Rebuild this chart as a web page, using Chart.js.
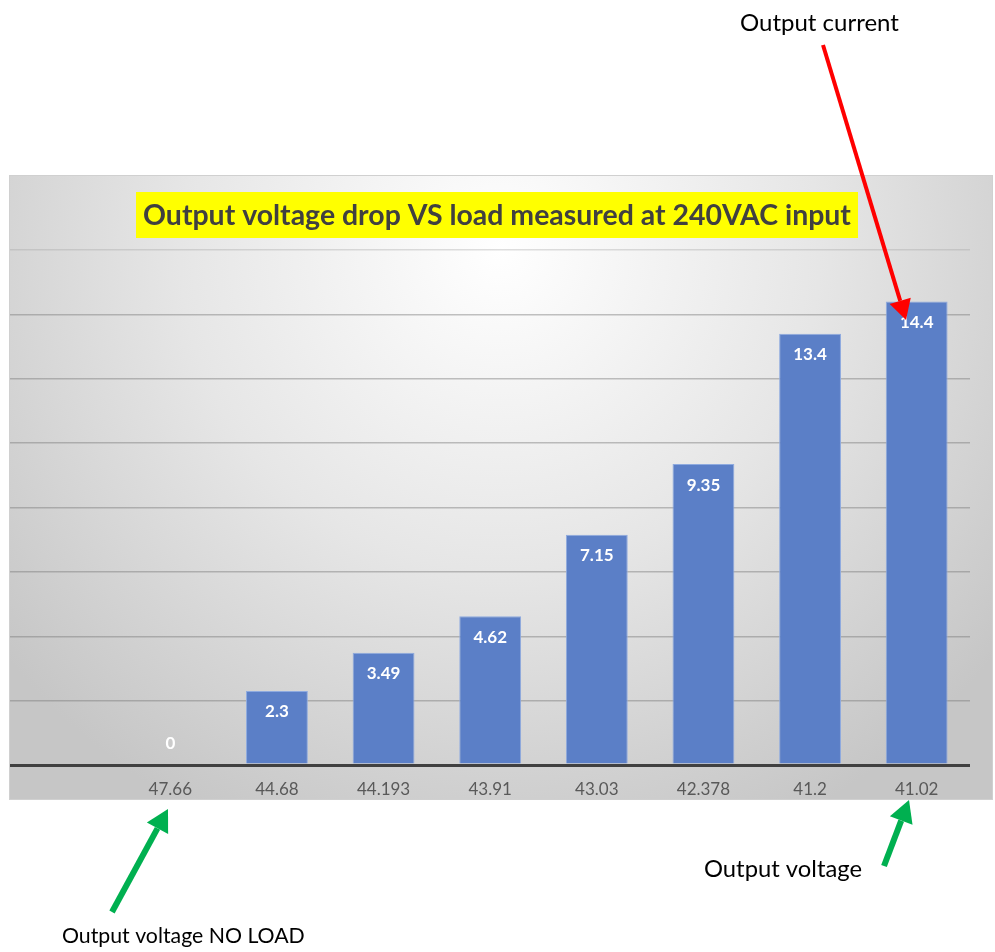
<!DOCTYPE html>
<html>
<head>
<meta charset="utf-8">
<style>
  html, body { margin: 0; padding: 0; background: #ffffff; }
  #wrap { width: 995px; height: 952px; position: relative; }
</style>
<script src="https://cdn.jsdelivr.net/npm/chart.js@4.4.1/dist/chart.umd.min.js"></script>
</head>
<body>
<div id="wrap"><canvas id="myChart"></canvas></div>
<script>
// data
const voltages = ['47.66', '44.68', '44.193', '43.91', '43.03', '42.378', '41.2', '41.02'];
const currents = [0, 2.3, 3.49, 4.62, 7.15, 9.35, 13.4, 14.4];
const yTicks   = [0, 2, 4, 6, 8, 10, 12, 14, 16];

const titleText = 'Output voltage drop VS load measured at 240VAC input';
const FONT = 'Lato, Carlito, Calibri, sans-serif';

// gray gradient box behind the chart + title box
const backdrop = {
    id: 'backdrop',
    beforeDraw(chart) {
        const c = chart.ctx;
        c.save();
        const g = c.createRadialGradient(500, 250, 0, 500, 250, 640);
        g.addColorStop(0, '#ffffff');
        g.addColorStop(0.5, '#e6e6e6');
        g.addColorStop(1, '#c6c6c6');
        c.fillStyle = g;
        c.fillRect(9, 175, 984, 625);
        c.strokeStyle = '#d0d0d0';
        c.lineWidth = 1;
        c.strokeRect(9.5, 175.5, 983, 624);

        // title
        c.font = 'bold 24px ' + FONT;
        let w = c.measureText(titleText).width;
        const size = 24 * 708 / w;
        c.font = 'bold ' + size.toFixed(2) + 'px ' + FONT;
        c.fillStyle = '#ffff00';
        c.fillRect(136, 192, 722, 46);
        c.fillStyle = '#404040';
        c.textAlign = 'center';
        c.textBaseline = 'middle';
        c.fillText(titleText, 497, 216);
        c.restore();
    }
};

// white value labels near the top of every bar
const barLabels = {
    id: 'barLabels',
    afterDatasetsDraw(chart) {
        const c = chart.ctx;
        const meta = chart.getDatasetMeta(0);
        c.save();
        c.font = 'bold 17px ' + FONT;
        c.fillStyle = '#ffffff';
        c.textAlign = 'center';
        c.textBaseline = 'middle';
        meta.data.forEach((bar, i) => {
            const v = currents[i];
            const y = v > 0 ? bar.y + 21 : bar.y - 21;
            c.fillText(String(v), bar.x, y);
        });
        c.restore();
    }
};

function arrow(c, x1, y1, x2, y2, color, width, head) {
    const a = Math.atan2(y2 - y1, x2 - x1);
    const bx = x2 - head * Math.cos(a);
    const by = y2 - head * Math.sin(a);
    c.strokeStyle = color;
    c.fillStyle = color;
    c.lineWidth = width;
    c.beginPath();
    c.moveTo(x1, y1);
    c.lineTo(bx, by);
    c.stroke();
    c.beginPath();
    c.moveTo(x2, y2);
    c.lineTo(bx + head * 0.55 * Math.sin(a), by - head * 0.55 * Math.cos(a));
    c.lineTo(bx - head * 0.55 * Math.sin(a), by + head * 0.55 * Math.cos(a));
    c.closePath();
    c.fill();
}

// text squeezed to the width it has in the picture
function fitText(c, text, x, y, width) {
    c.font = '24px ' + FONT;
    const s = Math.min(24, 24 * width / c.measureText(text).width);
    c.font = s.toFixed(2) + 'px ' + FONT;
    c.fillText(text, x, y);
}

// callouts round the chart
const callouts = {
    id: 'callouts',
    afterDraw(chart) {
        const c = chart.ctx;
        c.save();
        c.fillStyle = '#000000';
        c.textAlign = 'left';
        c.textBaseline = 'middle';
        fitText(c, 'Output current', 740, 23, 160);
        fitText(c, 'Output voltage', 704, 869, 158);
        fitText(c, 'Output voltage NO LOAD', 62, 936, 243);

        arrow(c, 823, 45, 906, 320, '#ff0000', 4, 20);
        arrow(c, 112, 912, 168, 809, '#00b050', 6, 22);
        arrow(c, 884, 866, 909, 800, '#00b050', 6, 22);
        c.restore();
    }
};

const ctx = document.getElementById('myChart');

new Chart(ctx, {
    type: 'bar',
    data: {
        labels  : voltages,
        datasets: [
            {
                label          : 'Output current',
                data           : currents,
                backgroundColor: '#5b7fc7',
                borderColor    : '#8eaadf',
                borderWidth    : 1,
                barPercentage  : 0.58,
                categoryPercentage: 1
            }
        ]
    },
    options: {
        responsive         : true,
        maintainAspectRatio: false,
        animation          : false,
        layout: {
            padding: { left: 10, right: 25, top: 250, bottom: 0 }
        },
        plugins: {
            legend : { display: false },
            tooltip: { enabled: false }
        },
        scales: {
            x: {
                grid  : { display: false },
                border: { display: false },
                ticks : {
                    color: '#595959',
                    padding: 6,
                    font : { family: FONT, size: 17 }
                },
                afterFit(scale) { scale.height = 187; }
            },
            y: {
                min: 0,
                max: 16,
                afterBuildTicks(scale) {
                    scale.ticks = yTicks.map(v => ({ value: v }));
                },
                border: { display: false },
                ticks : { display: false },
                grid  : {
                    drawTicks : true,
                    tickLength: 107,
                    color     : c => c.tick && c.tick.value === 0 ? '#404040'
                        : (c.tick && c.tick.value === 16 ? 'rgba(160,160,160,0.35)' : 'rgba(120,120,120,0.45)'),
                    lineWidth : c => c.tick && c.tick.value === 0 ? 3 : 1.5
                }
            }
        }
    },
    plugins: [backdrop, barLabels, callouts]
});
</script>
</body>
</html>
